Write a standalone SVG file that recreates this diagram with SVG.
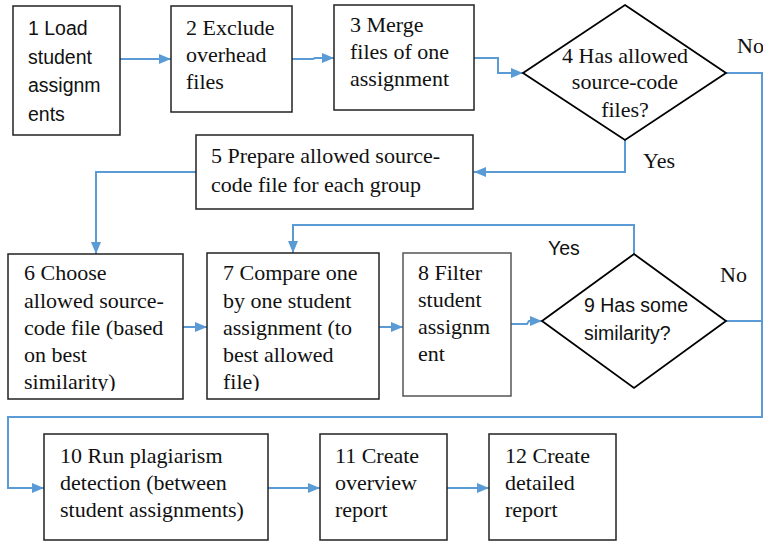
<svg xmlns="http://www.w3.org/2000/svg" width="763" height="543" viewBox="0 0 763 543">
<style>
.box{fill:#fff;stroke:#222;stroke-width:1.5}
.dia{fill:#fff;stroke:#000;stroke-width:1.8}
.serif{font-family:"Liberation Serif","Times New Roman",serif;font-size:22px;fill:#111}
.sans{font-family:"Liberation Sans",Arial,sans-serif;font-size:19.5px;fill:#111}
.conn{fill:none;stroke:#5B9BD5;stroke-width:2}
</style>
<defs>
<marker id="ah" markerUnits="userSpaceOnUse" markerWidth="13" markerHeight="11" refX="12" refY="5" orient="auto">
<path d="M0,0 L12,5 L0,10 z" fill="#5B9BD5"/>
</marker>
<clipPath id="clip67"><rect x="0" y="250" width="400" height="141"/></clipPath>
</defs>
<g id="connectors">
<path class="conn" d="M120,59 H171" marker-end="url(#ah)"/>
<path class="conn" d="M292,59 H313 L315,58 H334" marker-end="url(#ah)"/>
<path class="conn" d="M474,58 H498 V73 H523" marker-end="url(#ah)"/>
<path class="conn" d="M726,73 H762 V417 H8 V488 H44" marker-end="url(#ah)"/>
<path class="conn" d="M625,140 V172 H474" marker-end="url(#ah)"/>
<path class="conn" d="M196,172 H96 V254" marker-end="url(#ah)"/>
<path class="conn" d="M183,327 H207" marker-end="url(#ah)"/>
<path class="conn" d="M379,327 H403" marker-end="url(#ah)"/>
<path class="conn" d="M511,324 H527 L529,321 H542" marker-end="url(#ah)"/>
<path class="conn" d="M634,254 V225 H293 V253" marker-end="url(#ah)"/>
<path class="conn" d="M726,321 H762"/>
<path class="conn" d="M268,488 H320" marker-end="url(#ah)"/>
<path class="conn" d="M447,488 H489" marker-end="url(#ah)"/>
<text class="serif" x="737" y="53">No</text>
<text class="serif" x="643" y="168">Yes</text>
<text class="sans" x="548" y="255">Yes</text>
<text class="serif" x="720" y="282">No</text>
</g>
<g id="n1">
<rect class="box" x="13" y="6" width="107" height="129"/>
<text class="sans" x="28" y="35">1 Load</text>
<text class="sans" x="28" y="63.5">student</text>
<text class="sans" x="28" y="92">assignm</text>
<text class="sans" x="28" y="120.5">ents</text>
</g>
<g id="n2">
<rect class="box" x="171" y="6" width="121" height="106"/>
<text class="serif" x="186" y="35">2 Exclude</text>
<text class="serif" x="186" y="62">overhead</text>
<text class="serif" x="186" y="89">files</text>
</g>
<g id="n3">
<rect class="box" x="334" y="5" width="140" height="105"/>
<text class="serif" x="350" y="32">3 Merge</text>
<text class="serif" x="350" y="59">files of one</text>
<text class="serif" x="350" y="86">assignment</text>
</g>
<g id="n4">
<polygon class="dia" points="625,5 726,73 625,140 523,73"/>
<text class="serif" x="625" y="63" text-anchor="middle">4 Has allowed</text>
<text class="serif" x="625" y="89" text-anchor="middle">source-code</text>
<text class="serif" x="625" y="117" text-anchor="middle">files?</text>
</g>
<g id="n5">
<rect class="box" x="196" y="135" width="277" height="74"/>
<text class="serif" x="211" y="163">5 Prepare allowed source-</text>
<text class="serif" x="211" y="192">code file for each group</text>
</g>
<g id="n6">
<rect class="box" x="8" y="254" width="175" height="145"/>
<g clip-path="url(#clip67)">
<text class="serif" x="24" y="280">6 Choose</text>
<text class="serif" x="24" y="308">allowed source-</text>
<text class="serif" x="24" y="335">code file (based</text>
<text class="serif" x="24" y="362">on best</text>
<text class="serif" x="24" y="389">similarity)</text>
</g>
</g>
<g id="n7">
<rect class="box" x="207" y="253" width="172" height="146"/>
<g clip-path="url(#clip67)">
<text class="serif" x="223" y="280">7 Compare one</text>
<text class="serif" x="223" y="308">by one student</text>
<text class="serif" x="223" y="335">assignment (to</text>
<text class="serif" x="223" y="362">best allowed</text>
<text class="serif" x="223" y="389">file)</text>
</g>
</g>
<g id="n8">
<rect class="box" x="403" y="253" width="108" height="143" style="stroke:#555"/>
<text class="serif" x="418" y="280">8 Filter</text>
<text class="serif" x="418" y="307">student</text>
<text class="serif" x="418" y="334">assignm</text>
<text class="serif" x="418" y="361">ent</text>
</g>
<g id="n9">
<polygon class="dia" points="634,254 726,321 634,388 542,321"/>
<text class="sans" x="584" y="312">9 Has some</text>
<text class="sans" x="584" y="340">similarity?</text>
</g>
<g id="n10">
<rect class="box" x="44" y="434" width="224" height="106"/>
<text class="serif" x="60" y="463">10 Run plagiarism</text>
<text class="serif" x="60" y="490">detection (between</text>
<text class="serif" x="60" y="517">student assignments)</text>
</g>
<g id="n11">
<rect class="box" x="320" y="434" width="127" height="106"/>
<text class="serif" x="335" y="463">11 Create</text>
<text class="serif" x="335" y="490">overview</text>
<text class="serif" x="335" y="517">report</text>
</g>
<g id="n12">
<rect class="box" x="489" y="434" width="127" height="106"/>
<text class="serif" x="505" y="463">12 Create</text>
<text class="serif" x="505" y="490">detailed</text>
<text class="serif" x="505" y="517">report</text>
</g>
</svg>
